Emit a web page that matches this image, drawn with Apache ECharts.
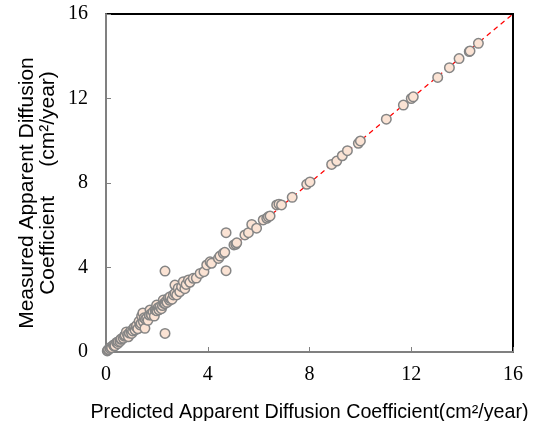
<!DOCTYPE html>
<html>
<head>
<meta charset="utf-8">
<script src="https://cdn.jsdelivr.net/npm/echarts@6/dist/echarts.min.js"></script>
<style>html,body{margin:0;padding:0;background:#fff}#c{width:533px;height:421px}</style>
</head>
<body>
<div id="c"></div>
<script>
const predicted = [0.05,0.08,0.1,0.16,0.2,0.22,0.29,0.32,0.35,0.42,0.46,0.48,0.55,0.58,0.6,0.68,0.72,0.75,0.8,0.85,0.88,0.92,0.98,1.01,1.05,1.1,1.14,1.18,1.2,1.25,1.3,1.34,1.38,1.4,1.45,1.47,1.5,1.53,1.55,1.6,1.65,1.7,1.73,1.76,1.79,1.85,1.9,1.93,1.96,1.99,2.0,2.05,2.08,2.12,2.18,2.22,2.25,2.28,2.32,2.32,2.32,2.36,2.4,2.45,2.5,2.52,2.52,2.6,2.65,2.71,2.71,2.78,2.84,2.9,2.97,3.04,3.1,3.15,3.24,3.3,3.43,3.55,3.7,3.85,3.96,4.09,4.15,4.42,4.48,4.61,4.67,4.72,4.72,5.03,5.1,5.14,5.46,5.6,5.73,5.92,6.18,6.32,6.38,6.45,6.71,6.8,6.9,7.32,7.89,8.02,8.87,9.07,9.29,9.49,9.92,10.0,11.02,11.69,12.0,12.08,13.04,13.5,13.88,14.28,14.31,14.64];
const measured = [0.05,0.1,0.12,0.17,0.24,0.2,0.33,0.28,0.3,0.45,0.4,0.49,0.5,0.6,0.62,0.65,0.75,0.8,0.95,0.82,0.72,0.9,1.0,0.88,1.0,1.15,1.04,1.2,1.25,1.1,1.45,1.28,1.35,1.7,1.85,1.43,1.62,1.12,1.55,1.6,1.5,1.75,1.99,1.8,1.75,1.9,1.7,1.99,2.05,2.22,1.95,2.1,2.0,2.14,2.05,2.2,2.46,2.3,2.3,0.88,3.83,2.4,2.35,2.55,2.45,2.54,2.62,2.5,2.7,2.78,3.17,2.7,3.02,2.85,3.09,3.33,3.0,3.2,3.41,3.3,3.49,3.5,3.72,3.8,4.12,4.27,4.2,4.43,4.54,4.67,4.72,5.65,3.85,5.07,5.1,5.17,5.54,5.65,6.04,5.86,6.25,6.33,6.4,6.44,6.96,7.0,6.96,7.32,7.94,8.05,8.88,9.04,9.29,9.53,9.88,9.99,11.02,11.69,12.0,12.08,13.0,13.46,13.89,14.22,14.25,14.61];
const refLine = [[0,0],[16,16]];
const axisTicks = [0,4,8,12,16];
const xName = 'Predicted Apparent Diffusion Coefficient(cm\u00b2/year)';
const yNameLine1 = 'Measured Apparent Diffusion';
const yNameLine2 = 'Coefficient     (cm\u00b2/year)';

const points = predicted.map((p,i)=>[p, measured[i]]);
const chart = echarts.init(document.getElementById('c'), null, {renderer:'canvas'});
const axisCommon = {
  min: axisTicks[0], max: axisTicks[axisTicks.length-1], interval: 4,
  splitLine:{show:false},
  axisLine:{show:true, onZero:false, lineStyle:{color:'#808080', width:2}},
  axisTick:{show:true, inside:true, length:5, lineStyle:{color:'#808080', width:1}},
  axisLabel:{color:'#000', fontFamily:'Liberation Serif', fontSize:20}
};
chart.setOption({
  animation:false,
  backgroundColor:'#fff',
  grid:{left:106, top:14, right:20, bottom:69, show:true, borderColor:'#000', borderWidth:2, backgroundColor:'transparent', containLabel:false, outerBoundsMode:'none'},
  xAxis:Object.assign({}, axisCommon, {type:'value', name:xName, nameLocation:'middle', nameGap:51,
    nameTextStyle:{fontFamily:'Liberation Sans', fontSize:19.7, color:'#000'},
    axisLabel:Object.assign({}, axisCommon.axisLabel, {margin:13})}),
  yAxis:Object.assign({}, axisCommon, {type:'value',
    axisLabel:Object.assign({}, axisCommon.axisLabel, {margin:18})}),
  graphic:[
    {type:'text', x:27, y:193, rotation:Math.PI/2, style:{text:yNameLine1, fontFamily:'Liberation Sans', fontSize:21, fill:'#000', align:'center', verticalAlign:'middle'}},
    {type:'text', x:48, y:183, rotation:Math.PI/2, style:{text:yNameLine2, fontFamily:'Liberation Sans', fontSize:21, fill:'#000', align:'center', verticalAlign:'middle'}}
  ],
  series:[
    {type:'line', data:refLine, symbol:'none', lineStyle:{color:'#ff0000', width:1.2, type:[5,4]}, z:1, silent:true},
    {type:'scatter', data:points, symbol:'circle', symbolSize:9.5,
     itemStyle:{color:'#fbe3d4', borderColor:'#858585', borderWidth:1.5, opacity:1}, z:3}
  ]
});
</script>
</body>
</html>
